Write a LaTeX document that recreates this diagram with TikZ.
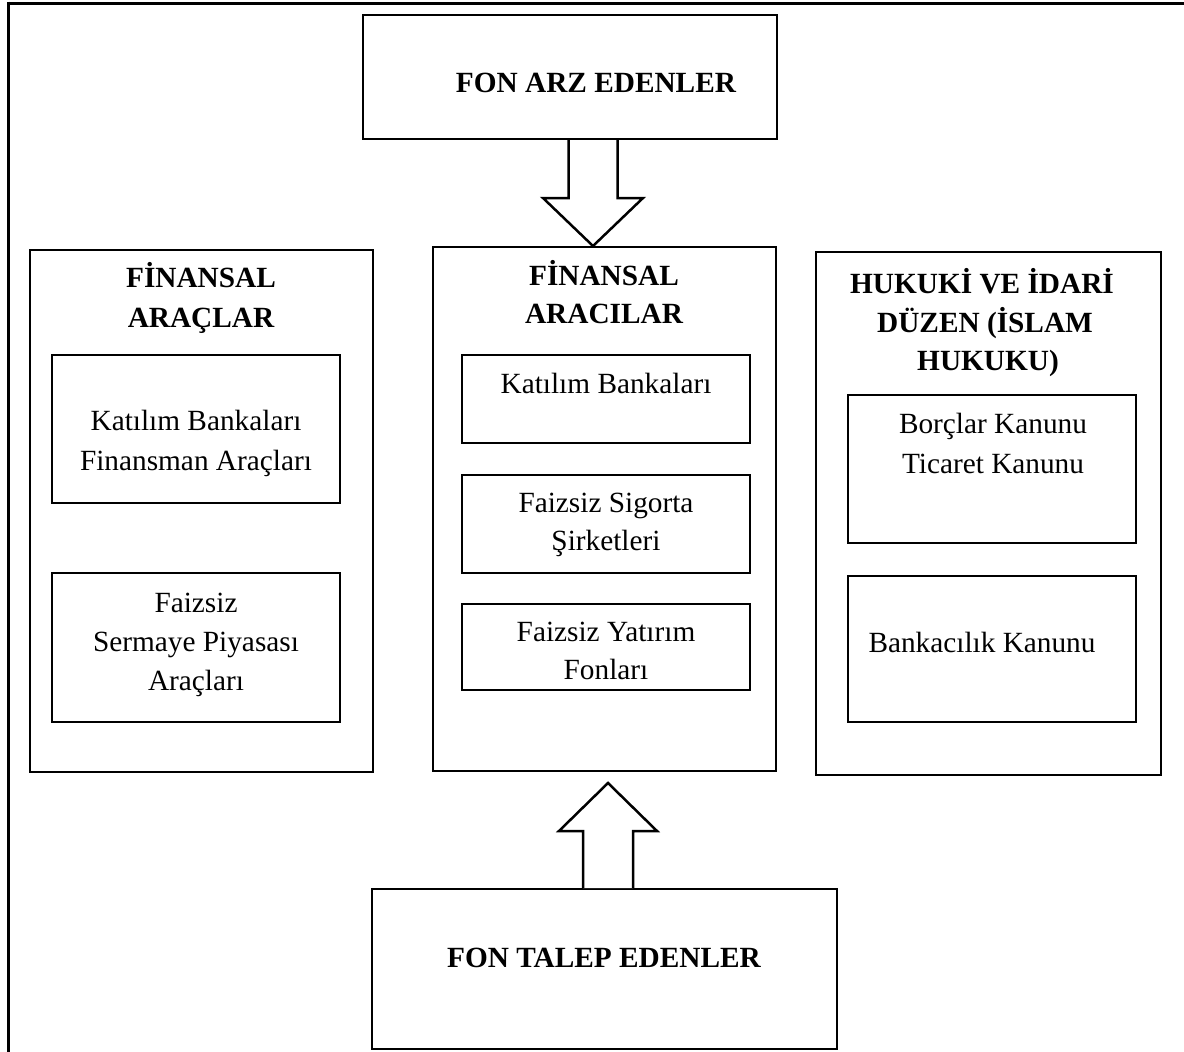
\documentclass[tikz,border=0pt]{standalone}
\usepackage{fontspec}
\setmainfont{Liberation Serif}
\begin{document}
\begin{tikzpicture}[x=1pt,y=-1pt,
  frameline/.style={line width=3pt},
  bigbox/.style={draw, line width=2pt, inner sep=0pt},
  smallbox/.style={draw, line width=1.3pt, inner sep=0pt},
  hollow/.style={draw, line width=2.5pt, fill=white, line join=miter},
  ttl/.style={font=\fontsize{29.3}{40}\selectfont\bfseries, anchor=base, inner sep=0pt},
  txt/.style={font=\fontsize{29.3}{40}\selectfont, anchor=base, inner sep=0pt}]
\useasboundingbox (0,0) rectangle (1184,1052);
% outer frame (top and left edges)
\draw[frameline] (7,3) -- (1184,3);
\draw[frameline] (8.5,1.5) -- (8.5,1052);

% main boxes
\node[bigbox, minimum width=414pt, minimum height=124pt] (arz) at (570,77) {};
\node[bigbox, minimum width=465pt, minimum height=160pt] (talep) at (604.5,969) {};
\node[bigbox, minimum width=343pt, minimum height=522pt] (left) at (201.5,511) {};
\node[bigbox, minimum width=343pt, minimum height=524pt] (mid) at (604.5,509) {};
\node[bigbox, minimum width=345pt, minimum height=523pt] (right) at (988.5,513.5) {};

% inner boxes
\node[smallbox, minimum width=288pt, minimum height=148pt] (L1) at (196,429) {};
\node[smallbox, minimum width=288pt, minimum height=149pt] (L2) at (196,647.5) {};
\node[smallbox, minimum width=288pt, minimum height=88pt] (M1) at (606,399) {};
\node[smallbox, minimum width=288pt, minimum height=98pt] (M2) at (606,524) {};
\node[smallbox, minimum width=288pt, minimum height=86pt] (M3) at (606,647) {};
\node[smallbox, minimum width=288pt, minimum height=148pt] (R1) at (992,469) {};
\node[smallbox, minimum width=288pt, minimum height=146pt] (R2) at (992,649) {};

% texts
\node[ttl] (arzT) at (596,92) {FON ARZ EDENLER};
\node[ttl] (talepT) at (604,967) {FON TALEP EDENLER};

\node[ttl] (leftT1) at (201,287) {FİNANSAL};
\node[ttl] (leftT2) at (201,327) {ARAÇLAR};
\node[ttl] (midT1) at (604,285) {FİNANSAL};
\node[ttl] (midT2) at (604,323) {ARACILAR};
\node[ttl] (rightT1) at (982,293) {HUKUKİ VE İDARİ};
\node[ttl] (rightT2) at (985,332) {DÜZEN (İSLAM};
\node[ttl] (rightT3) at (988,370) {HUKUKU)};

\node[txt] (L1a) at (196,430) {Katılım Bankaları};
\node[txt] (L1b) at (196,470) {Finansman Araçları};
\node[txt] (L2a) at (196,612) {Faizsiz};
\node[txt] (L2b) at (196,651) {Sermaye Piyasası};
\node[txt] (L2c) at (196,690) {Araçları};

\node[txt] (M1a) at (606,393) {Katılım Bankaları};
\node[txt] (M2a) at (606,512) {Faizsiz Sigorta};
\node[txt] (M2b) at (606,550) {Şirketleri};
\node[txt] (M3a) at (606,641) {Faizsiz Yatırım};
\node[txt] (M3b) at (606,679) {Fonları};

\node[txt] (R1a) at (993,433) {Borçlar Kanunu};
\node[txt] (R1b) at (993,473) {Ticaret Kanunu};
\node[txt] (R2a) at (982,652) {Bankacılık Kanunu};

% block arrows
\coordinate (dL) at (568.5,0);
\coordinate (dR) at (617.5,0);
\coordinate (dT) at (593,0);
\draw[hollow] (arz.south -| dL) -- (568.5,198) -- (543,198) -- (mid.north -| dT)
  -- (643,198) -- (617.5,198) -- (arz.south -| dR);

\coordinate (uL) at (583,0);
\coordinate (uR) at (633,0);
\draw[hollow] (talep.north -| uL) -- (583,831) -- (559,831) -- (608,783)
  -- (657,831) -- (633,831) -- (talep.north -| uR);
\end{tikzpicture}
\end{document}
